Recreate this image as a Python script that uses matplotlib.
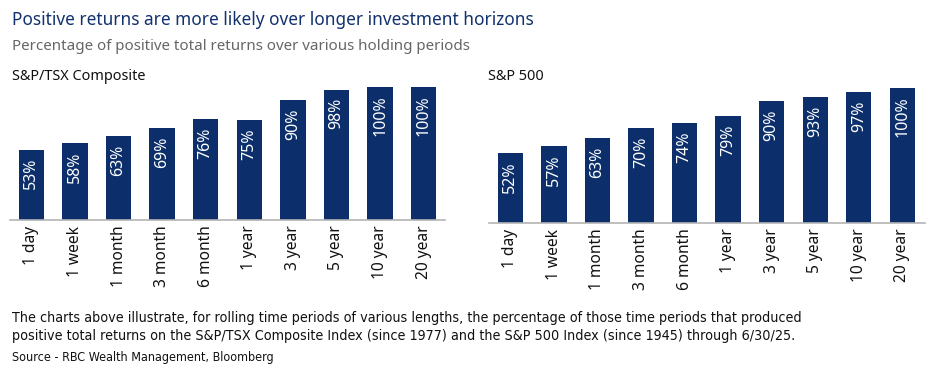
import matplotlib.pyplot as plt
import numpy as np

periods = ['1 day', '1 week', '1 month', '3 month', '6 month',
           '1 year', '3 year', '5 year', '10 year', '20 year']
tsx_vals = [53, 58, 63, 69, 76, 75, 90, 98, 100, 100]
spx_vals = [52, 57, 63, 70, 74, 79, 90, 93, 97, 100]

title = 'Positive returns are more likely over longer investment horizons'
subtitle = 'Percentage of positive total returns over various holding periods'
note = ('The charts above illustrate, for rolling time periods of various lengths, the percentage of those time periods that produced\n'
        'positive total returns on the S&P/TSX Composite Index (since 1977) and the S&P 500 Index (since 1945) through 6/30/25.')
source = 'Source - RBC Wealth Management, Bloomberg'

navy = '#0c2f6b'
plt.rcParams['font.family'] = ['Noto Sans', 'DejaVu Sans']

fig = plt.figure(figsize=(9.36, 3.71), dpi=100)
W, H = 936, 371


def px_axes(x0, x1, y_base, y_top):
    # pixel box -> figure fraction
    return fig.add_axes([x0 / W, (H - y_base) / H, (x1 - x0) / W, (y_base - y_top) / H])


def draw(ax, vals, xlim):
    x = np.arange(len(vals))
    bars = ax.bar(x, vals, width=0.58, color=navy)
    ax.set_ylim(0, 100)
    ax.set_xlim(*xlim)
    ax.set_xticks(x)
    ax.set_xticklabels(periods, rotation=90, fontsize=11.2, color='#111111')
    ax.tick_params(axis='x', length=0, pad=4)
    ax.set_yticks([])
    for s in ['top', 'right', 'left']:
        ax.spines[s].set_visible(False)
    ax.spines['bottom'].set_color('#b4b4b4')
    ax.spines['bottom'].set_linewidth(1.2)
    for b, v in zip(bars, vals):
        ax.annotate('%d%%' % v, (b.get_x() + b.get_width() / 2, v),
                    xytext=(0, -6), textcoords='offset points',
                    rotation=90, ha='center', va='top',
                    color='white', fontsize=11.5)


ax1 = px_axes(10, 445, 220, 87)
draw(ax1, tsx_vals, (-0.49, 9.49))
ax2 = px_axes(489, 925, 223, 88)
draw(ax2, spx_vals, (-0.49, 9.52))

fig.text(12 / W, 1 - 20 / H, title, fontsize=12.4, color='#12316e', va='center')
fig.text(12 / W, 1 - 47 / H, subtitle, fontsize=10.9, color='#666666', va='center')
fig.text(12 / W, 1 - 76 / H, 'S&P/TSX Composite', fontsize=10.4, color='#111111', va='center')
fig.text(488 / W, 1 - 76 / H, 'S&P 500', fontsize=10.4, color='#111111', va='center')

fig.text(12 / W, 1 - 327 / H, note, fontsize=10.3, color='#111111', va='center',
         family='DejaVu Sans', fontstretch='condensed', linespacing=1.3)
fig.text(12 / W, 1 - 357 / H, source, fontsize=9, color='#111111', va='center',
         family='DejaVu Sans', fontstretch='condensed')

fig.savefig('out.png', dpi=100)
